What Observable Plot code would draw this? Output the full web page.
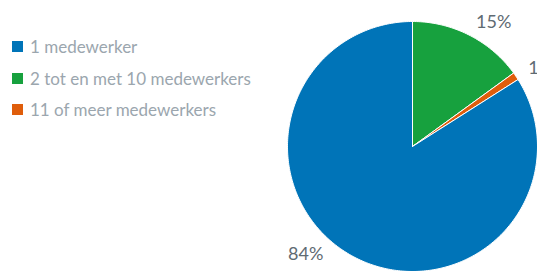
<!DOCTYPE html>
<html><head><meta charset="utf-8">
<script src="https://cdn.jsdelivr.net/npm/d3@7"></script>
<script src="https://cdn.jsdelivr.net/npm/@observablehq/plot@0.6"></script>
<style>
body{margin:0;background:#fff;font-family:Lato,sans-serif;}
#wrap{position:relative;width:537px;height:271px;overflow:hidden;}
#legend{position:absolute;left:12px;top:31px;}
.item{display:flex;align-items:center;height:31.5px;font-size:17px;color:#9ba6ae;white-space:nowrap;}
.sw{width:11px;height:11px;margin-right:7px;flex:none;}
</style></head><body>
<div id="wrap"><div id="chart"></div><div id="legend"></div></div>
<script>
const categories = ["2 tot en met 10 medewerkers", "11 of meer medewerkers", "1 medewerker"];
const values = [15, 1, 84];
const colors = ["#17a13e", "#df5d0b", "#0074b8"];
const legendOrder = ["1 medewerker", "2 tot en met 10 medewerkers", "11 of meer medewerkers"];

const W = 537, H = 271, cx = 412, cy = 146, R = 125, LR = 140;
const arcs = d3.pie().sort(null).value(d => d.v)(categories.map((c, i) => ({c, v: values[i]})));
const pts = [];
arcs.forEach(a => {
  pts.push({cat: a.data.c, x: 0, y: 0});
  const n = Math.max(4, Math.ceil((a.endAngle - a.startAngle) * 60));
  for (let k = 0; k <= n; k++) {
    const t = a.startAngle + (a.endAngle - a.startAngle) * k / n;
    pts.push({cat: a.data.c, x: R * Math.sin(t), y: -R * Math.cos(t)});
  }
  pts.push({cat: a.data.c, x: 0, y: 0});
});
const labels = arcs.map(a => {
  const m = (a.startAngle + a.endAngle) / 2;
  let y = -LR * Math.cos(m);
  y = Math.max(-cy + 14, Math.min(H - cy - 17, y));
  const side = Math.sin(m) >= 0 ? 1 : -1;
  const x = side * Math.sqrt(Math.max(0, LR * LR - y * y));
  return {x, y, side, text: Math.round(a.data.v) + "%"};
});

const chart = Plot.plot({
  width: W, height: H, margin: 0,
  x: {domain: [-cx, W - cx], range: [0, W], axis: null},
  y: {domain: [-cy, H - cy], range: [0, H], axis: null},
  color: {domain: categories, range: colors},
  style: {fontFamily: "Lato, sans-serif", background: "transparent"},
  marks: [
    Plot.line(pts, {x: "x", y: "y", z: "cat", fill: "cat", stroke: "white", strokeWidth: 1, strokeLinejoin: "round"}),
    Plot.text(labels.filter(d => d.side > 0), {x: "x", y: "y", text: "text", textAnchor: "start", fontSize: 18, fill: "#5f6b73"}),
    Plot.text(labels.filter(d => d.side < 0), {x: "x", y: "y", text: "text", textAnchor: "end", fontSize: 18, fill: "#5f6b73"})
  ]
});
document.getElementById("chart").append(chart);

const lg = document.getElementById("legend");
legendOrder.forEach(c => {
  const it = document.createElement("div"); it.className = "item";
  const sw = document.createElement("span"); sw.className = "sw";
  sw.style.background = colors[categories.indexOf(c)];
  const tx = document.createElement("span"); tx.textContent = c;
  it.append(sw, tx); lg.append(it);
});
</script></body></html>
